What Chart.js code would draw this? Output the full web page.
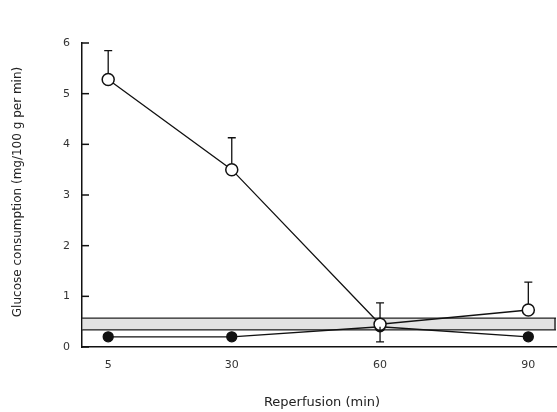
<!DOCTYPE html>
<html>
<head>
<meta charset="utf-8">
<script src="https://cdn.jsdelivr.net/npm/chart.js@4"></script>
<style>
  html, body { margin: 0; padding: 0; background: #fff; overflow: hidden; }
  #wrap { width: 557px; height: 412px; position: relative; }
</style>
</head>
<body>
<div id="wrap"><canvas id="glc"></canvas></div>
<script>
const times = [5, 30, 60, 90];
const xTicks = [5, 30, 60, 90];
const yTicks = [0, 1, 2, 3, 4, 5, 6];
const openVals = [5.28, 3.5, 0.45, 0.73];
const openErr = [0.57, 0.63, 0.42, 0.55];
const filledVals = [0.2, 0.2, 0.4, 0.2];
const filledErr = [0, 0, 0.3, 0];
const bandLow = 0.34;
const bandHigh = 0.57;
const xRange = [-0.3, 95.6];

const pts = vals => times.map((t, i) => ({ x: t, y: vals[i] }));

// error whiskers, inside ticks on y axis, band end, axis titles
const extras = {
  id: 'extras',
  afterDatasetsDraw(chart) {
    const { ctx, scales: { x, y } } = chart;
    ctx.save();
    ctx.strokeStyle = '#111';
    ctx.lineWidth = 1.3;
    const whisk = (t, from, to) => {
      const px = x.getPixelForValue(t);
      const a = y.getPixelForValue(from), b = y.getPixelForValue(to);
      ctx.beginPath();
      ctx.moveTo(px, a); ctx.lineTo(px, b);
      ctx.moveTo(px - 4, b); ctx.lineTo(px + 4, b);
      ctx.stroke();
    };
    times.forEach((t, i) => {
      if (openErr[i]) whisk(t, openVals[i] + 0.12, openVals[i] + openErr[i]);
      if (filledErr[i]) whisk(t, filledVals[i], filledVals[i] - filledErr[i]);
    });
    // right end of the control band
    const bx = x.getPixelForValue(xRange[1]) - 1;
    ctx.beginPath();
    ctx.moveTo(bx, y.getPixelForValue(bandHigh));
    ctx.lineTo(bx, y.getPixelForValue(bandLow));
    ctx.stroke();
    // y ticks pointing inwards
    ctx.lineWidth = 1.5;
    yTicks.forEach(v => {
      const py = y.getPixelForValue(v);
      ctx.beginPath();
      ctx.moveTo(x.left - 1, py); ctx.lineTo(x.left + 7, py);
      ctx.stroke();
    });
    // titles
    ctx.fillStyle = '#222';
    ctx.font = '13px "DejaVu Sans"';
    ctx.textAlign = 'center';
    ctx.textBaseline = 'middle';
    ctx.fillText('Reperfusion (min)', 322, 403);
    ctx.translate(18, 192);
    ctx.rotate(-Math.PI / 2);
    ctx.font = '12px "DejaVu Sans"';
    ctx.fillText('Glucose consumption (mg/100 g per min)', 0, 0);
    ctx.restore();
  }
};

new Chart(document.getElementById('glc'), {
  type: 'scatter',
  data: {
    datasets: [
      {
        label: 'band high',
        data: [{ x: xRange[0], y: bandHigh }, { x: xRange[1], y: bandHigh }],
        showLine: true, borderColor: '#222', borderWidth: 1.3, pointRadius: 0,
        fill: '+1', backgroundColor: 'rgba(185,185,185,0.4)', order: 5
      },
      {
        label: 'band low',
        data: [{ x: xRange[0], y: bandLow }, { x: xRange[1], y: bandLow }],
        showLine: true, borderColor: '#222', borderWidth: 1.3, pointRadius: 0, order: 5
      },
      {
        label: 'filled',
        data: pts(filledVals),
        showLine: true, borderColor: '#111', borderWidth: 1.3,
        pointRadius: 5, pointBackgroundColor: '#111', pointBorderColor: '#111', order: 2
      },
      {
        label: 'open',
        data: pts(openVals),
        showLine: true, borderColor: '#111', borderWidth: 1.3,
        pointRadius: 6, pointBackgroundColor: '#fff', pointBorderColor: '#111',
        pointBorderWidth: 1.5, order: 1
      }
    ]
  },
  options: {
    responsive: true,
    maintainAspectRatio: false,
    animation: false,
    layout: { autoPadding: false, padding: { top: 43, right: 1, left: 0, bottom: 0 } },
    plugins: { legend: { display: false }, tooltip: { enabled: false } },
    scales: {
      x: {
        type: 'linear', min: xRange[0], max: xRange[1],
        afterBuildTicks: s => { s.ticks = xTicks.map(v => ({ value: v })); },
        afterFit: s => { s.height = 65; },
        grid: { display: false, drawTicks: false },
        border: { color: '#111', width: 1.5 },
        ticks: { color: '#333', font: { family: 'DejaVu Sans', size: 11 }, padding: 12 }
      },
      y: {
        min: 0, max: 6,
        afterBuildTicks: s => { s.ticks = yTicks.map(v => ({ value: v })); },
        afterFit: s => { s.width = 82; },
        grid: { display: false, drawTicks: false },
        border: { color: '#111', width: 1.5 },
        ticks: { color: '#333', font: { family: 'DejaVu Sans', size: 11 }, padding: 12 }
      }
    }
  },
  plugins: [extras]
});
</script>
</body>
</html>
